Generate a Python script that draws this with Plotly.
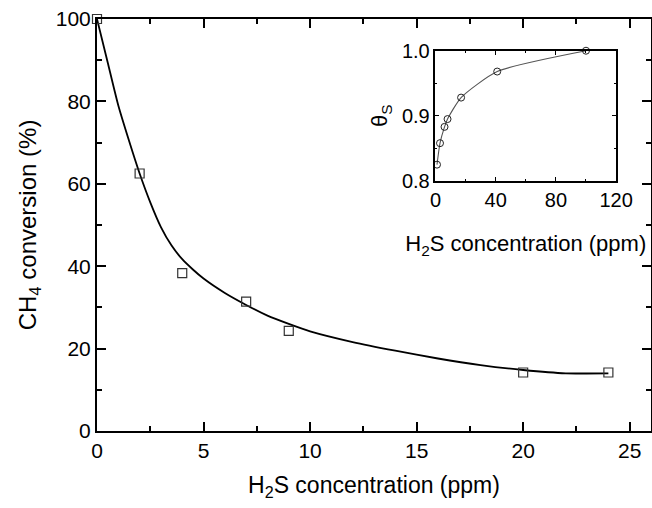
import plotly.graph_objects as go

# Main panel: CH4 conversion vs H2S concentration
h2s_ppm = [0, 2, 4, 7, 9, 20, 24]
ch4_conv = [100, 62.5, 38.3, 31.4, 24.3, 14.2, 14.2]

# Fitted trend line
fit_x = [0, 0.5, 1, 1.5, 2, 2.5, 3, 3.5, 4, 4.5, 5, 6, 7, 8, 9, 10, 12, 14, 16, 18, 20, 22, 24]
fit_y = [100, 89.5, 79, 70.5, 62.5, 55.5, 49.5, 45, 41.7, 39.2, 37, 33.5, 30.6, 28, 26, 24.2, 21.6, 19.5, 17.6, 16, 14.8, 14, 14]

# Inset: sulfur coverage vs H2S concentration
inset_x = [1, 3, 6, 8, 17, 41, 100]
inset_theta = [0.825, 0.858, 0.883, 0.895, 0.928, 0.968, 1.0]

FONT = "Liberation Sans, Arial, sans-serif"

fig = go.Figure()

fig.add_trace(go.Scatter(
    x=fit_x, y=fit_y, mode="lines",
    line=dict(color="black", width=1.8, shape="spline", smoothing=0.6),
    showlegend=False, hoverinfo="skip", xaxis="x", yaxis="y"))
fig.add_trace(go.Scatter(
    x=h2s_ppm, y=ch4_conv, mode="markers",
    marker=dict(symbol="square-open", size=9, color="#333333", line=dict(width=1.2)),
    showlegend=False, xaxis="x", yaxis="y", cliponaxis=False))

fig.add_trace(go.Scatter(
    x=inset_x, y=inset_theta, mode="lines+markers",
    line=dict(color="#555555", width=1.1, shape="spline", smoothing=0.6),
    marker=dict(symbol="circle-open", size=7, color="#222222", line=dict(width=1)),
    showlegend=False, xaxis="x2", yaxis="y2", cliponaxis=False))

axis_common = dict(showline=True, linecolor="black", mirror="allticks", ticks="inside",
                   tickcolor="black", showgrid=False, zeroline=False, automargin=False,
                   tickfont=dict(family=FONT, size=21, color="black"))

inset_common = dict(showline=True, linecolor="black", mirror="allticks", ticks="inside", ticklen=4,
                    tickcolor="black", tickwidth=1.2, showgrid=False, zeroline=False, linewidth=1.6,
                    automargin=False, tickfont=dict(family=FONT, size=20, color="black"))

fig.update_layout(
    width=652, height=508,
    margin=dict(l=97, r=1, t=19, b=77, autoexpand=False),
    paper_bgcolor="white", plot_bgcolor="white",
    font=dict(family=FONT, color="black"),
    xaxis=dict(**axis_common, range=[0, 26], dtick=5, tick0=0, linewidth=2, ticklen=9, tickwidth=1.5,
               minor=dict(ticks="inside", dtick=2.5, ticklen=5, tickcolor="black", tickwidth=1.5),
               domain=[0, 1],
               title=dict(text="H<sub>2</sub>S concentration (ppm)", font=dict(family=FONT, size=23), standoff=16)),
    yaxis=dict(**axis_common, range=[0, 100], dtick=20, tick0=0, linewidth=2, ticklen=9, tickwidth=1.5,
               minor=dict(ticks="inside", dtick=10, ticklen=5, tickcolor="black", tickwidth=1.5),
               domain=[0, 1],
               title=dict(text="CH<sub>4</sub> conversion (%)", font=dict(family=FONT, size=24), standoff=12)),
    xaxis2=dict(**inset_common, range=[0, 120], dtick=40, tick0=0, anchor="y2", domain=[0.611, 0.937],
                minor=dict(ticks="inside", dtick=20, ticklen=2, tickcolor="black"),
                title=dict(text="H<sub>2</sub>S concentration (ppm)", font=dict(family=FONT, size=22), standoff=26)),
    yaxis2=dict(**inset_common, range=[0.8, 1.0], dtick=0.1, tick0=0.8, tickformat=".1f", anchor="x2",
                domain=[0.607, 0.923],
                minor=dict(ticks="inside", dtick=0.05, ticklen=2, tickcolor="black"),
                title=dict(text="θ<sub>S</sub>", font=dict(family=FONT, size=22), standoff=8)),
)

fig.write_html("out.html")
